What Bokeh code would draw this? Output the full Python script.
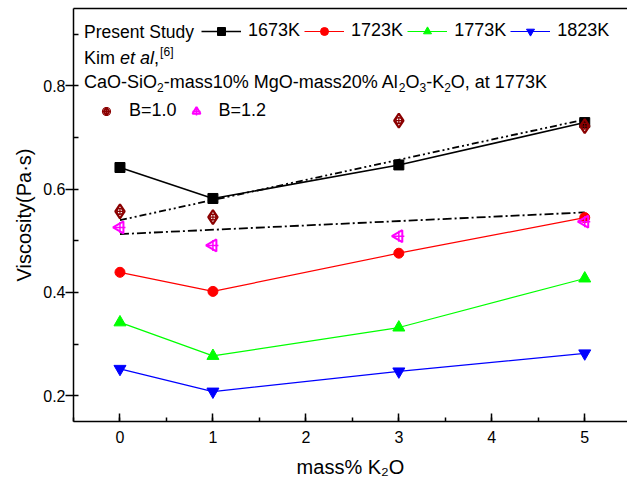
from bokeh.plotting import figure
from bokeh.models import (Range1d, SingleIntervalTicker, LinearAxis, FixedTicker,
                          Legend, LegendItem, Label, PrintfTickFormatter)
from bokeh.embed import file_html
from bokeh.resources import INLINE

# ---- data ----
k2o = [0, 1, 3, 5]
visc_1673 = [0.642, 0.582, 0.647, 0.729]
visc_1723 = [0.439, 0.402, 0.476, 0.545]
visc_1773 = [0.342, 0.277, 0.332, 0.427]
visc_1823 = [0.252, 0.208, 0.247, 0.282]
kim_b10 = [0.557, 0.546, 0.733, 0.722]
kim_b12 = [0.526, 0.491, 0.509, 0.537]
fit_x = [0, 5]
fit_b10 = [0.540, 0.735]
fit_b12 = [0.513, 0.555]
series_names = ["1673K", "1723K", "1773K", "1823K"]
kim_names = ["B=1.0", "B=1.2"]

FONT = "Liberation Sans"
LFS = 18  # legend text size (px)

# Arial / Liberation Sans advance widths (em)
W = {"C": .722, "a": .556, "O": .778, "-": .333, "S": .667, "i": .222, "m": .833,
     "s": .5, "1": .556, "0": .556, "%": .889, " ": .278, "M": .833, "g": .556,
     "2": .556, "A": .667, "l": .222, "K": .667, ",": .278, "t": .278, "7": .556,
     "3": .556, "e": .556}

def tw(s, size):
    return sum(W.get(c, .556) for c in s) * size

p = figure(width=627, height=481, output_backend="svg", toolbar_location=None,
           x_range=Range1d(-0.5, 5.46), y_range=Range1d(0.15, 0.95),
           min_border_left=73, min_border_right=0, min_border_top=8, min_border_bottom=60)
p.outline_line_color = None
p.xgrid.grid_line_color = None
p.ygrid.grid_line_color = None
p.background_fill_color = "white"
p.border_fill_color = "white"

# axes
xa = p.xaxis[0]
xa.ticker = SingleIntervalTicker(interval=1, num_minor_ticks=2)
xa.axis_label = "mass% K\u2082O"
ya = p.yaxis[0]
ya.ticker = SingleIntervalTicker(interval=0.2, num_minor_ticks=2)
ya.formatter = PrintfTickFormatter(format="%.1f")
ya.axis_label = "Viscosity(Pa\u00b7s)"
for ax in (xa, ya):
    ax.axis_line_width = 1.5
    ax.major_tick_line_width = 1.5
    ax.minor_tick_line_width = 1.5
    ax.major_label_text_font = FONT
    ax.major_label_text_font_size = "16px"
    ax.major_label_text_color = "black"
    ax.axis_label_text_font = FONT
    ax.axis_label_text_font_size = "20px"
    ax.axis_label_text_font_style = "normal"
    ax.axis_label_text_color = "black"
xa.major_tick_in = 8
xa.major_tick_out = 0
xa.minor_tick_in = 4
xa.minor_tick_out = 0
xa.major_label_standoff = 9
xa.axis_label_standoff = 10
ya.major_tick_in = 0
ya.major_tick_out = 8
ya.minor_tick_in = 5
ya.minor_tick_out = 0
ya.major_label_standoff = 0
ya.axis_label_standoff = 5

top = LinearAxis(ticker=FixedTicker(ticks=[]), axis_line_width=1.5,
                 major_tick_line_color=None, minor_tick_line_color=None,
                 major_label_standoff=0)
p.add_layout(top, "above")

# fit lines
p.line(fit_x, fit_b10, line_color="black", line_width=1.8, line_dash="7 3 2 3 2 3")
p.line(fit_x, fit_b12, line_color="black", line_width=1.8, line_dash="9 3 2 3")

# present study
styles = [
    (visc_1673, "black", "square", 10, 1.6),
    (visc_1723, "red", "circle", 10, 1.2),
    (visc_1773, "#00FF00", "triangle", 12, 1.2),
    (visc_1823, "blue", "inverted_triangle", 12, 1.2),
]
items1 = []
for (vals, col, mk, sz, lw), name in zip(styles, series_names):
    ln = p.line(k2o, vals, line_color=col, line_width=lw)
    sc = p.scatter(k2o, vals, marker=mk, size=sz, fill_color=col, line_color=col)
    items1.append(LegendItem(label=name, renderers=[ln, sc]))

# Kim et al
s10 = p.scatter(k2o, kim_b10, marker="diamond", size=14, fill_color=None,
                line_color="#8B0000", line_width=2.2)
s10b = p.scatter(k2o, kim_b10, marker="circle_cross", size=6, fill_color=None,
                 line_color="#8B0000", line_width=1.2)
s12a = p.scatter(k2o, kim_b12, marker="triangle", angle=1.5708, size=12, fill_color=None,
                 line_color="#FF00FF", line_width=2)
s12b = p.scatter(k2o, kim_b12, marker="cross", size=11, line_color="#FF00FF", line_width=1.5)

common = dict(orientation="horizontal", glyph_height=20, label_height=20, padding=0,
              margin=0, border_line_color=None, background_fill_alpha=0,
              label_text_font=FONT, label_text_font_size=f"{LFS}px", label_text_color="black")
leg1 = Legend(items=items1, location=(128, 380), glyph_width=40, label_standoff=7,
              spacing=4, **common)
leg2 = Legend(items=[LegendItem(label=kim_names[0], renderers=[s10, s10b]),
                     LegendItem(label=kim_names[1], renderers=[s12a, s12b])],
              location=(23, 300), glyph_width=20, label_standoff=13, spacing=9, **common)
p.add_layout(leg1)
p.add_layout(leg2)

def lab(x, y, text, size=LFS, style="normal"):
    p.add_layout(Label(x=x, y=y, x_units="screen", y_units="screen", text=text,
                       text_font=FONT, text_font_size=f"{size}px", text_font_style=style,
                       text_baseline="middle", text_color="black"))

X0 = 10.6
lab(X0, 389.6, "Present Study", size=17.5)
lab(X0, 364, "Kim")
x = X0 + tw("Kim ", LFS)
lab(x, 364, "et al", style="italic")
x += tw("et al", LFS)
lab(x, 364, ",")
x += tw(",", LFS) + 1
lab(x, 370, "[6]", size=12)

# line 3 with subscripts
SUB = 12
segs = [("CaO-SiO", False), ("2", True), ("-mass10% MgO-mass20% Al", False), ("2", True),
        ("O", False), ("3", True), ("-K", False), ("2", True), ("O, at 1773K", False)]
x = X0
Y3 = 339.6
for s, sub in segs:
    if sub:
        lab(x, Y3 - 6, s, size=SUB)
        x += tw(s, SUB)
    else:
        lab(x, Y3, s)
        x += tw(s, LFS)

open("out.html", "w").write(file_html(p, INLINE))
